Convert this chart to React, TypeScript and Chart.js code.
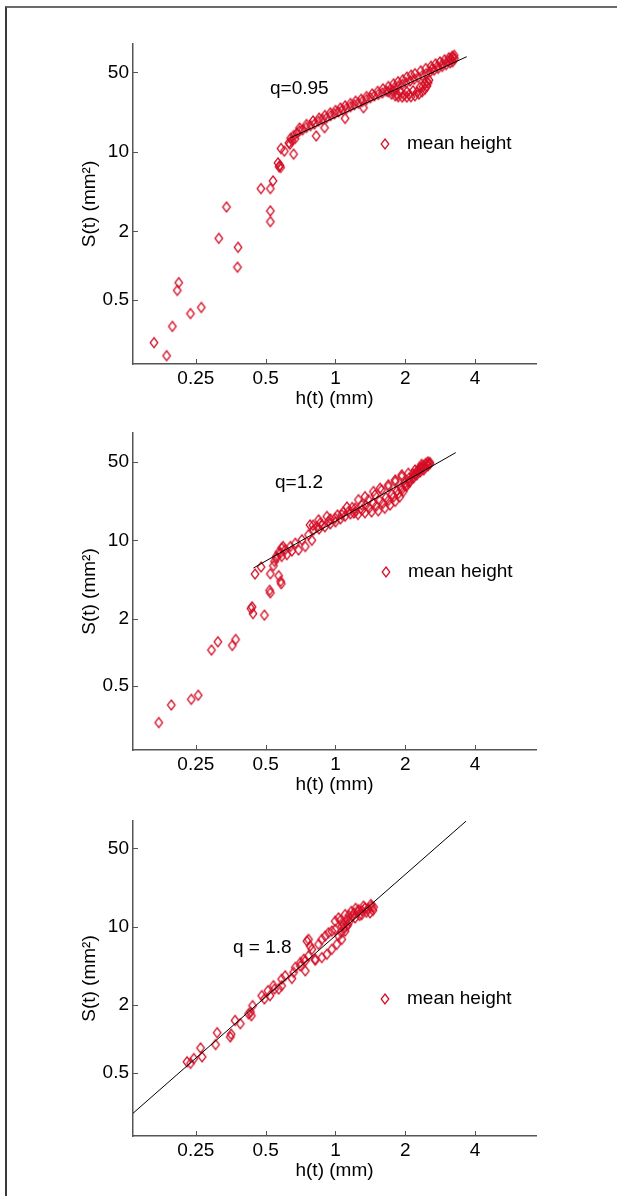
import React, { useEffect, useRef } from 'react';
import { Chart, registerables } from 'chart.js';

Chart.register(...registerables);

// ---------- data ----------
const xTickValues = [0.25, 0.5, 1, 2, 4];
const xTickLabels = ['0.25', '0.5', '1', '2', '4'];
const yTickValues = [0.5, 2, 10, 50];
const yTickLabels = ['0.5', '2', '10', '50'];
const xRange = [0.134, 7.32];
const xTitle = 'h(t) (mm)';
const yTitle = 'S(t) (mm²)';
const legendLabel = 'mean height';
const qLabels = ['q=0.95', 'q=1.2', 'q = 1.8'];

const panel1Points: [number, number][] = [
  [0.165, 0.211], [0.187, 0.162], [0.198, 0.293], [0.208, 0.607], [0.211, 0.71], [0.237, 0.38],
  [0.264, 0.43], [0.314, 1.74], [0.339, 3.28], [0.38, 1.45], [0.378, 0.97], [0.477, 4.76],
  [0.524, 4.76], [0.538, 5.56], [0.524, 3.03], [0.524, 2.44], [0.565, 8.0], [0.576, 7.6],
  [0.58, 7.3], [0.571, 7.4], [0.582, 10.7], [0.602, 10.15], [0.66, 9.55], [0.636, 11.7],
  [0.63, 12.0], [0.65, 12.6], [0.67, 13.1],
  [0.826, 13.8], [0.897, 16.3], [1.10, 19.7], [1.32, 24.4],
  [0.641, 13.2], [0.66, 13.9], [0.682, 14.6], [0.70, 15.3], [0.721, 15.6], [0.75, 16.4],
  [0.781, 17.0], [0.812, 17.6], [0.845, 18.6], [0.879, 19.3], [0.915, 19.9], [0.952, 20.8],
  [0.99, 21.6], [1.03, 22.4], [1.072, 23.4], [1.115, 24.0], [1.16, 24.9], [1.207, 25.9],
  [1.256, 26.8], [1.307, 27.8], [1.36, 28.8], [1.414, 29.9], [1.471, 31.0], [1.531, 32.0],
  [1.593, 33.0], [1.657, 34.2], [1.724, 35.4], [1.794, 36.6], [1.866, 37.8], [1.942, 39.2],
  [2.02, 40.6], [2.10, 42.0], [2.187, 43.5], [2.275, 45.2], [2.367, 46.8], [2.462, 48.6],
  [2.562, 50.4], [2.665, 52.3], [2.773, 54.2], [2.885, 56.3], [3.002, 58.4], [3.123, 60.6],
  [3.2, 62.0],
  [0.70, 16.2], [0.75, 17.4], [0.80, 18.7], [0.85, 19.8], [0.90, 20.9], [0.95, 22.0],
  [1.0, 23.1], [1.05, 24.3], [1.10, 25.4], [1.16, 26.6], [1.22, 27.9], [1.29, 29.0],
  [1.36, 30.6], [1.44, 32.3], [1.52, 34.0], [1.60, 35.8], [1.69, 37.5], [1.78, 39.6],
  [1.86, 41.3], [1.95, 43.0], [2.03, 45.4], [2.12, 47.2], [2.2, 48.6], [2.33, 51.5],
  [2.45, 54.0], [2.58, 56.5], [2.7, 59.3], [2.82, 61.7], [2.95, 64.4], [3.08, 67.0],
  [3.18, 69.0], [3.25, 70.5],
  [2.6, 53.5], [2.75, 56.5], [2.9, 59.5], [3.05, 62.5], [3.15, 65.5], [3.22, 67.5], [3.26, 66.0],
  [1.69, 33.7], [1.745, 32.2], [1.81, 31.1], [1.866, 30.5], [1.94, 30.3], [2.03, 30.3],
  [2.115, 30.5], [2.2, 31.1], [2.29, 32.2], [2.365, 33.7], [2.43, 35.6], [2.48, 37.9],
  [2.51, 40.5], [2.53, 42.8], [1.775, 34.4], [1.9, 33.7], [2.03, 33.7], [2.16, 34.4],
  [2.31, 36.9], [2.43, 40.0], [1.85, 31.8], [1.98, 31.5], [2.08, 32.0], [2.25, 33.5],
  [2.38, 37.5], [2.47, 41.5],
];
const panel1Fit: [number, number][] = [[0.64, 13.3], [3.68, 68.6]];

const panel2Points: [number, number][] = [
  [0.173, 0.237], [0.196, 0.34], [0.239, 0.382], [0.256, 0.415], [0.292, 1.05], [0.311, 1.245],
  [0.359, 1.155], [0.371, 1.305], [0.437, 2.55], [0.441, 2.22], [0.494, 2.15], [0.432, 2.46],
  [0.52, 3.58], [0.524, 3.4], [0.45, 5.0], [0.478, 5.78], [0.524, 5.03], [0.569, 4.83],
  [0.58, 4.3], [0.584, 4.1], [0.54, 5.93], [0.546, 6.48], [0.556, 7.18], [0.569, 7.79],
  [0.586, 8.52], [0.594, 8.8],
  [0.556, 6.94], [0.579, 7.69], [0.607, 8.23], [0.639, 8.8], [0.671, 9.4], [0.716, 10.1],
  [0.765, 11.2], [0.804, 12.4], [0.831, 13.2], [0.873, 13.7], [0.933, 14.7], [0.997, 15.7],
  [1.064, 16.9], [1.137, 18.0], [1.215, 19.3], [1.297, 20.7], [1.387, 23.0], [1.48, 25.4],
  [1.58, 28.1], [1.69, 30.1], [1.81, 33.3], [1.93, 36.9], [2.06, 39.6], [2.2, 42.3],
  [2.35, 45.3], [2.51, 48.0], [2.55, 49.4],
  [0.777, 13.7], [0.845, 15.2], [0.918, 16.3], [1.12, 19.8], [1.256, 23.0], [1.34, 24.5],
  [1.457, 27.2], [1.556, 29.1], [1.69, 31.2], [1.81, 34.5], [1.93, 38.3],
  [1.25, 17.0], [1.34, 17.6], [1.43, 17.9], [1.53, 18.3], [1.63, 19.3], [1.72, 20.6],
  [1.81, 22.2], [1.89, 24.3], [1.96, 27.2], [2.03, 30.5], [2.095, 33.3], [2.17, 36.0],
  [2.24, 38.3], [2.32, 40.6], [2.4, 42.3],
  [1.2, 17.5], [1.3, 18.6], [1.4, 19.4], [1.5, 20.2], [1.6, 21.3], [1.69, 22.6],
  [1.78, 24.3], [1.866, 26.0], [1.93, 28.3], [2.0, 30.5], [2.06, 33.0], [2.13, 35.6],
  [2.2, 38.5], [2.275, 41.0], [2.35, 43.5],
  [1.35, 20.5], [1.45, 21.5], [1.55, 22.6], [1.65, 24.0], [1.75, 25.7], [1.84, 27.5],
  [1.92, 29.5], [2.0, 32.5], [2.08, 36.0], [2.16, 39.0], [2.25, 41.5], [2.33, 44.5],
  [0.586, 7.18], [0.617, 7.45], [0.649, 8.02], [0.693, 8.2], [0.741, 8.8], [0.791, 10.0],
  [2.3, 44.0], [2.4, 46.5], [2.45, 48.5], [2.5, 50.0], [2.55, 48.0], [2.5, 46.0], [2.42, 44.5],
  [2.35, 47.5],
  [0.85, 12.6], [0.9, 13.2], [0.95, 14.0], [1.0, 14.6], [1.05, 15.5], [1.1, 16.4], [1.16, 17.2],
  [1.22, 18.0], [0.8, 13.6], [0.86, 14.3], [0.95, 15.5], [1.02, 16.8], [1.08, 17.9], [1.18, 19.6],
];
const panel2Fit: [number, number][] = [[0.443, 5.66], [3.3, 60.5]];

const panel3Points: [number, number][] = [
  [0.229, 0.624], [0.237, 0.604], [0.245, 0.667], [0.262, 0.83], [0.266, 0.691], [0.304, 0.889],
  [0.309, 1.135], [0.352, 1.04], [0.355, 1.1], [0.369, 1.46], [0.389, 1.365], [0.422, 1.67],
  [0.439, 1.98], [0.434, 1.61], [0.481, 2.43], [0.511, 2.69], [0.522, 2.43], [0.54, 2.98],
  [0.569, 2.78], [0.586, 3.41], [0.607, 3.65], [0.649, 3.46], [0.66, 3.92], [0.671, 4.34],
  [0.706, 4.8], [0.741, 4.04], [0.73, 5.13], [0.765, 5.49], [0.753, 7.45], [0.778, 6.73],
  [0.791, 6.29], [0.818, 5.04], [0.845, 6.97], [0.873, 7.72], [0.903, 8.26], [0.933, 8.85],
  [0.964, 9.14], [0.997, 9.46], [0.873, 5.31], [0.918, 5.69], [0.964, 6.29], [1.013, 6.97],
  [1.064, 7.72], [1.1, 9.14], [1.115, 10.1], [0.997, 11.2], [1.03, 12.0], [1.1, 12.85],
  [1.17, 13.7], [1.256, 14.2], [1.34, 14.7], [1.43, 15.2], [1.41, 13.3], [1.297, 12.85],
  [1.215, 12.0], [1.15, 11.2], [1.064, 10.1],
  [0.43, 1.73], [0.494, 2.27], [0.546, 2.78], [0.586, 2.98], [0.706, 4.47], [0.741, 4.96],
  [0.765, 7.72], [0.818, 5.13],
  [1.2, 13.2], [1.3, 13.9], [1.38, 14.5], [1.45, 14.0], [1.46, 15.0], [1.36, 13.5], [1.27, 12.6],
  [1.18, 12.4], [1.12, 11.6], [1.08, 10.6], [1.05, 11.4], [1.13, 10.4], [1.09, 9.8], [1.06, 8.9],
  [1.03, 8.3], [1.22, 14.6], [1.32, 15.3], [1.42, 15.8], [1.14, 12.6], [1.25, 13.6],
];
const panel3Fit: [number, number][] = [[0.134, 0.217], [3.66, 87.9]];

// ---------- layout / style ----------
const RED = 'rgb(212, 14, 38)';
const AXIS = '#555555';
const FONT = '"Liberation Sans", Arial, Helvetica, sans-serif';
const FONT_SIZE = 19;

const panels = [
  { top: 0, height: 414, padTop: 44, yMin: 0.137, yMax: 88.7, points: panel1Points, fit: panel1Fit, q: qLabels[0], qPos: [137, 45], legPos: [252, 100] },
  { top: 414, height: 386, padTop: 19, yMin: 0.135, yMax: 90.5, points: panel2Points, fit: panel2Fit, q: qLabels[1], qPos: [142, 49.5], legPos: [253, 139] },
  { top: 800, height: 386, padTop: 21, yMin: 0.136, yMax: 87.9, points: panel3Points, fit: panel3Fit, q: qLabels[2], qPos: [100, 126.5], legPos: [252, 178] },
];

function makeDiamond(): HTMLCanvasElement {
  const c = document.createElement('canvas');
  c.width = 12;
  c.height = 14;
  const g = c.getContext('2d')!;
  g.strokeStyle = RED;
  g.lineWidth = 1.25;
  g.beginPath();
  g.moveTo(6, 2);
  g.lineTo(9.8, 7);
  g.lineTo(6, 12);
  g.lineTo(2.2, 7);
  g.closePath();
  g.stroke();
  return c;
}

function Panel({ cfg }: { cfg: typeof panels[number] }) {
  const ref = useRef<HTMLCanvasElement | null>(null);
  useEffect(() => {
    if (!ref.current) return;
    const diamond = makeDiamond();
    const overlay = {
      id: 'overlay',
      afterDatasetsDraw(chart: any) {
        const { ctx, chartArea, scales } = chart;
        ctx.save();
        ctx.strokeStyle = AXIS;
        ctx.lineWidth = 1;
        ctx.beginPath();
        xTickValues.forEach((v) => {
          const x = Math.round(scales.x.getPixelForValue(v)) + 0.5;
          ctx.moveTo(x, chartArea.bottom);
          ctx.lineTo(x, chartArea.bottom - 5);
        });
        yTickValues.forEach((v) => {
          const y = Math.round(scales.y.getPixelForValue(v)) + 0.5;
          ctx.moveTo(chartArea.left, y);
          ctx.lineTo(chartArea.left + 5, y);
        });
        ctx.stroke();
        ctx.fillStyle = '#000';
        ctx.font = `${FONT_SIZE}px ${FONT}`;
        ctx.textBaseline = 'middle';
        ctx.textAlign = 'left';
        ctx.fillText(cfg.q, chartArea.left + cfg.qPos[0], chartArea.top + cfg.qPos[1]);
        ctx.drawImage(diamond, chartArea.left + cfg.legPos[0] - 6, chartArea.top + cfg.legPos[1] - 7);
        ctx.fillText(legendLabel, chartArea.left + cfg.legPos[0] + 22, chartArea.top + cfg.legPos[1]);
        ctx.restore();
      },
    };
    const chart = new Chart(ref.current, {
      type: 'scatter',
      data: {
        datasets: [
          {
            data: cfg.fit.map(([x, y]) => ({ x, y })),
            showLine: true,
            borderColor: '#000',
            borderWidth: 1,
            pointRadius: 0,
            order: 0,
          } as any,
          {
            data: cfg.points.map(([x, y]) => ({ x, y })),
            pointStyle: diamond,
            pointRadius: 5,
            showLine: false,
            order: 1,
          } as any,
        ],
      },
      options: {
        animation: false,
        responsive: false,
        events: [],
        layout: { padding: { top: cfg.padTop, right: 617 - 536, left: 0, bottom: 0 } },
        plugins: { legend: { display: false }, tooltip: { enabled: false } },
        scales: {
          x: {
            type: 'logarithmic',
            position: 'bottom',
            min: xRange[0],
            max: xRange[1],
            bounds: 'data',
            grid: { display: false, drawTicks: false },
            border: { display: true, color: AXIS, width: 1.5 },
            ticks: {
              autoSkip: false,
              maxRotation: 0,
              padding: 3,
              color: '#000',
              font: { family: FONT, size: FONT_SIZE },
              callback: (v: any) => {
                const i = xTickValues.indexOf(Number(v));
                return i >= 0 ? xTickLabels[i] : '';
              },
            },
            title: {
              display: true,
              text: xTitle,
              color: '#000',
              font: { family: FONT, size: FONT_SIZE },
              padding: { top: 0, bottom: 4 },
            },
            afterBuildTicks: (s: any) => {
              s.ticks = xTickValues.map((v) => ({ value: v }));
            },
            afterFit: (s: any) => {
              s.height = 50;
            },
          } as any,
          y: {
            type: 'logarithmic',
            position: 'left',
            min: cfg.yMin,
            max: cfg.yMax,
            bounds: 'data',
            grid: { display: false, drawTicks: false },
            border: { display: true, color: AXIS, width: 1.5 },
            ticks: {
              autoSkip: false,
              padding: 4,
              color: '#000',
              font: { family: FONT, size: FONT_SIZE },
              callback: (v: any) => {
                const i = yTickValues.indexOf(Number(v));
                return i >= 0 ? yTickLabels[i] : '';
              },
            },
            title: {
              display: true,
              text: yTitle,
              color: '#000',
              font: { family: FONT, size: FONT_SIZE },
              padding: { top: 78, bottom: 0 },
            },
            afterBuildTicks: (s: any) => {
              s.ticks = yTickValues.map((v) => ({ value: v }));
            },
            afterFit: (s: any) => {
              s.width = 133;
            },
          } as any,
        },
      },
      plugins: [overlay],
    });
    return () => chart.destroy();
  }, [cfg]);
  return (
    <canvas
      ref={ref}
      width={617}
      height={cfg.height}
      style={{ position: 'absolute', left: 0, top: cfg.top, width: 617, height: cfg.height }}
    />
  );
}

export default function App() {
  return (
    <div style={{ position: 'absolute', left: 0, top: 0, width: 617, height: 1196, background: '#fff', overflow: 'hidden' }}>
      <div
        style={{
          position: 'absolute',
          left: 5,
          top: 6,
          width: 612,
          height: 1190,
          borderTop: '2px solid #6b6b6b',
          borderLeft: '2px solid #3a3a3a',
          boxSizing: 'border-box',
        }}
      />
      {panels.map((p, i) => (
        <Panel key={i} cfg={p} />
      ))}
    </div>
  );
}
